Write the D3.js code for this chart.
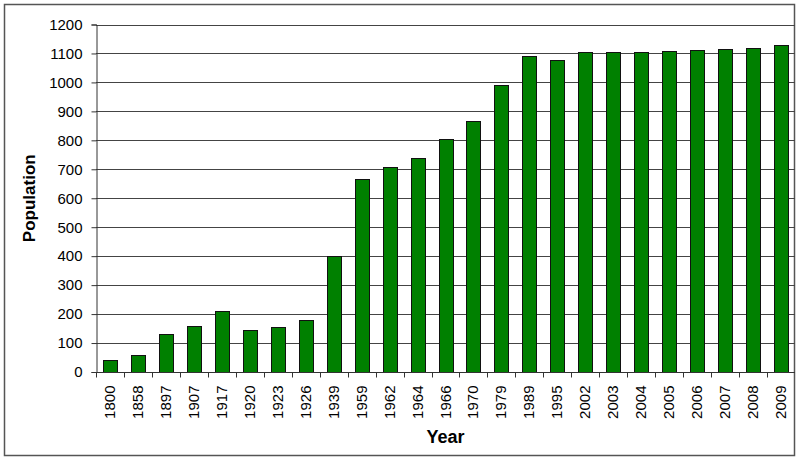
<!DOCTYPE html>
<html>
<head>
<meta charset="utf-8">
<script src="https://cdn.jsdelivr.net/npm/d3@7"></script>
<style>
  html, body { margin: 0; padding: 0; background: #fff; }
  svg { display: block; }
</style>
</head>
<body>
<svg id="chart" width="800" height="460"></svg>
<script>
const years = ["1800","1858","1897","1907","1917","1920","1923","1926","1939","1959","1962","1964","1966","1970","1979","1989","1995","2002","2003","2004","2005","2006","2007","2008","2009"];
const population = [40, 59, 130, 159, 209, 144, 156, 179, 399, 667, 708, 740, 803, 867, 992, 1092, 1077, 1104, 1104, 1104, 1107, 1111, 1115, 1119, 1130];
const yTicks = [0, 100, 200, 300, 400, 500, 600, 700, 800, 900, 1000, 1100, 1200];
const xTitle = "Year";
const yTitle = "Population";

const svg = d3.select("#chart");
const W = 800, H = 460;
const plot = { left: 96, right: 795, top: 24.5, bottom: 372 };

// outer frame
svg.append("rect")
  .attr("x", 4.5).attr("y", 4.5)
  .attr("width", 790).attr("height", 451)
  .attr("fill", "#fff")
  .attr("stroke", "#555").attr("stroke-width", 1.5);

const x = d3.scaleBand().domain(years).range([plot.left, plot.right]).paddingInner(0.5).paddingOuter(0.25);
const xTicksScale = d3.scaleBand().domain(years).range([plot.left, plot.right]);
const y = d3.scaleLinear().domain([0, 1200]).range([plot.bottom, plot.top]);

// gridlines
svg.append("g")
  .selectAll("line")
  .data(yTicks.filter(d => d > 0))
  .join("line")
  .attr("x1", plot.left).attr("x2", plot.right)
  .attr("y1", d => Math.round(y(d)) + 0.5).attr("y2", d => Math.round(y(d)) + 0.5)
  .attr("stroke", "#444").attr("stroke-width", 1);

// bars
svg.append("g")
  .selectAll("rect")
  .data(years.map((yr, i) => ({ yr, v: population[i] })))
  .join("rect")
  .attr("x", d => Math.round(x(d.yr)) + 0.5)
  .attr("y", d => Math.round(y(d.v)) + 0.5)
  .attr("width", Math.round(x.bandwidth()))
  .attr("height", d => Math.round(y(0)) - Math.round(y(d.v)))
  .attr("fill", "#008000")
  .attr("stroke", "#111").attr("stroke-width", 1);

// y axis
const yAxis = svg.append("g")
  .attr("transform", `translate(${plot.left + 0.5},0)`)
  .call(d3.axisLeft(y).tickValues(yTicks).tickSize(5).tickPadding(9).tickFormat(d3.format("d")));
yAxis.select(".domain").attr("stroke", "#333");
yAxis.selectAll(".tick line").attr("stroke", "#333");
yAxis.selectAll(".tick text")
  .attr("font-family", "Liberation Sans, Arial, sans-serif")
  .attr("font-size", 15).attr("fill", "#000");

// x axis (tick marks at band boundaries)
const xg = svg.append("g").attr("transform", `translate(0,${Math.round(plot.bottom) + 0.5})`);
xg.append("line")
  .attr("x1", plot.left).attr("x2", plot.right)
  .attr("stroke", "#333");
xg.selectAll("line.tk")
  .data(years)
  .join("line")
  .attr("class", "tk")
  .attr("x1", d => Math.round(xTicksScale(d)) + 0.5)
  .attr("x2", d => Math.round(xTicksScale(d)) + 0.5)
  .attr("y1", 0).attr("y2", 5)
  .attr("stroke", "#333");
xg.selectAll("text")
  .data(years)
  .join("text")
  .attr("transform", d => `translate(${xTicksScale(d) + xTicksScale.bandwidth() / 2 + 5},13) rotate(-90)`)
  .attr("text-anchor", "end")
  .attr("font-family", "Liberation Sans, Arial, sans-serif")
  .attr("font-size", 15).attr("fill", "#000")
  .text(d => d);

// titles
svg.append("text")
  .attr("x", (plot.left + plot.right) / 2).attr("y", 443)
  .attr("text-anchor", "middle")
  .attr("font-family", "Liberation Sans, Arial, sans-serif")
  .attr("font-weight", "bold").attr("font-size", 18)
  .text(xTitle);

svg.append("text")
  .attr("transform", `translate(35,${(plot.top + plot.bottom) / 2}) rotate(-90)`)
  .attr("text-anchor", "middle")
  .attr("font-family", "Liberation Sans, Arial, sans-serif")
  .attr("font-weight", "bold").attr("font-size", 17)
  .text(yTitle);
</script>
</body>
</html>
